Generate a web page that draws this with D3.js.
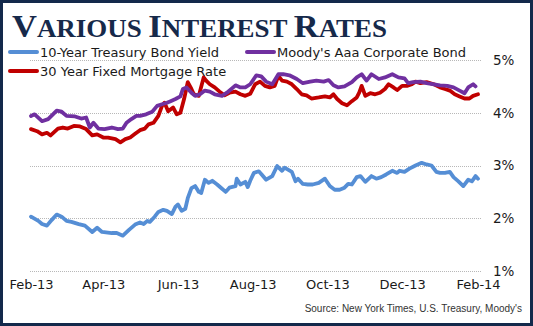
<!DOCTYPE html>
<html>
<head>
<meta charset="utf-8">
<script src="https://cdn.jsdelivr.net/npm/d3@7"></script>
<style>
  html, body { margin: 0; padding: 0; background: #fff; }
  svg { display: block; }
</style>
</head>
<body>
<svg id="chart" width="533" height="326"></svg>
<script>
// Weekly-ish readings of three rates, Feb 2013 – Feb 2014 (percent)
const treasury = [
  ["2013-02-01",2.03],["2013-02-07",1.95],["2013-02-10",1.89],["2013-02-14",1.86],["2013-02-18",1.97],
  ["2013-02-22",2.07],["2013-02-26",2.03],["2013-03-02",1.95],["2013-03-06",1.93],["2013-03-12",1.89],
  ["2013-03-17",1.86],["2013-03-23",1.74],["2013-03-27",1.82],["2013-03-31",1.74],["2013-04-08",1.72],
  ["2013-04-12",1.72],["2013-04-17",1.67],["2013-04-22",1.78],["2013-04-27",1.88],["2013-05-01",1.92],
  ["2013-05-04",1.89],["2013-05-07",1.95],["2013-05-09",1.93],["2013-05-13",2.03],["2013-05-16",2.12],
  ["2013-05-20",2.16],["2013-05-23",2.14],["2013-05-27",2.08],["2013-05-30",2.22],["2013-06-01",2.26],
  ["2013-06-04",2.14],["2013-06-07",2.18],["2013-06-09",2.38],["2013-06-12",2.57],["2013-06-15",2.61],
  ["2013-06-18",2.50],["2013-06-20",2.48],["2013-06-23",2.73],["2013-06-26",2.67],["2013-06-29",2.71],
  ["2013-07-03",2.64],["2013-07-07",2.56],["2013-07-10",2.50],["2013-07-13",2.58],["2013-07-18",2.61],
  ["2013-07-19",2.75],["2013-07-22",2.64],["2013-07-26",2.69],["2013-07-28",2.59],["2013-07-30",2.71],
  ["2013-08-02",2.86],["2013-08-06",2.89],["2013-08-08",2.84],["2013-08-12",2.73],["2013-08-17",2.80],
  ["2013-08-21",2.99],["2013-08-25",2.90],["2013-08-27",2.96],["2013-09-02",2.88],["2013-09-05",2.70],
  ["2013-09-07",2.75],["2013-09-11",2.65],["2013-09-15",2.64],["2013-09-19",2.64],["2013-09-24",2.67],
  ["2013-09-29",2.75],["2013-10-03",2.61],["2013-10-07",2.54],["2013-10-11",2.54],["2013-10-15",2.58],
  ["2013-10-18",2.65],["2013-10-21",2.64],["2013-10-25",2.78],["2013-10-28",2.80],["2013-11-01",2.69],
  ["2013-11-06",2.80],["2013-11-10",2.75],["2013-11-14",2.78],["2013-11-18",2.83],["2013-11-23",2.90],
  ["2013-11-27",2.86],["2013-11-29",2.90],["2013-12-03",2.88],["2013-12-07",2.94],["2013-12-12",3.00],
  ["2013-12-17",3.05],["2013-12-21",3.02],["2013-12-25",3.00],["2013-12-29",2.88],["2014-01-01",2.86],
  ["2014-01-05",2.86],["2014-01-09",2.88],["2014-01-12",2.78],["2014-01-16",2.70],["2014-01-20",2.61],
  ["2014-01-24",2.73],["2014-01-27",2.70],["2014-01-30",2.80],["2014-02-01",2.75]
];

const moodysAaa = [
  ["2013-02-01",3.94],["2013-02-04",3.97],["2013-02-10",3.84],["2013-02-15",3.88],["2013-02-22",4.04],
  ["2013-02-26",4.02],["2013-03-02",3.94],["2013-03-09",3.93],["2013-03-14",3.89],["2013-03-18",3.91],
  ["2013-03-21",3.72],["2013-03-24",3.81],["2013-03-28",3.70],["2013-04-02",3.69],["2013-04-08",3.72],
  ["2013-04-13",3.69],["2013-04-17",3.70],["2013-04-20",3.81],["2013-04-24",3.88],["2013-04-28",3.94],
  ["2013-05-01",3.94],["2013-05-06",3.97],["2013-05-11",4.02],["2013-05-15",4.13],["2013-05-19",4.16],
  ["2013-05-23",4.19],["2013-05-26",4.22],["2013-05-30",4.26],["2013-06-03",4.31],["2013-06-05",4.45],
  ["2013-06-08",4.48],["2013-06-12",4.38],["2013-06-15",4.32],["2013-06-19",4.35],["2013-06-23",4.42],
  ["2013-06-27",4.40],["2013-07-01",4.35],["2013-07-07",4.32],["2013-07-11",4.38],["2013-07-18",4.52],
  ["2013-07-22",4.48],["2013-07-26",4.48],["2013-07-30",4.54],["2013-08-04",4.71],["2013-08-08",4.69],
  ["2013-08-12",4.59],["2013-08-17",4.54],["2013-08-22",4.73],["2013-08-26",4.73],["2013-08-31",4.71],
  ["2013-09-06",4.64],["2013-09-11",4.56],["2013-09-17",4.59],["2013-09-22",4.61],["2013-09-28",4.59],
  ["2013-10-02",4.62],["2013-10-06",4.52],["2013-10-10",4.48],["2013-10-15",4.50],["2013-10-21",4.58],
  ["2013-10-25",4.67],["2013-10-29",4.73],["2013-11-02",4.61],["2013-11-06",4.73],["2013-11-12",4.64],
  ["2013-11-17",4.67],["2013-11-23",4.73],["2013-11-28",4.67],["2013-12-03",4.65],["2013-12-06",4.56],
  ["2013-12-10",4.58],["2013-12-16",4.59],["2013-12-21",4.56],["2013-12-27",4.54],["2014-01-01",4.52],
  ["2014-01-07",4.51],["2014-01-12",4.48],["2014-01-17",4.42],["2014-01-21",4.37],["2014-01-24",4.48],
  ["2014-01-28",4.54],["2014-01-30",4.50]
];

const mortgage30 = [
  ["2013-02-01",3.69],["2013-02-06",3.65],["2013-02-10",3.59],["2013-02-14",3.62],["2013-02-17",3.57],
  ["2013-02-23",3.70],["2013-02-27",3.72],["2013-03-03",3.70],["2013-03-08",3.75],["2013-03-13",3.74],
  ["2013-03-18",3.69],["2013-03-23",3.57],["2013-03-27",3.59],["2013-04-01",3.53],["2013-04-05",3.53],
  ["2013-04-11",3.50],["2013-04-15",3.44],["2013-04-19",3.50],["2013-04-23",3.53],["2013-04-27",3.60],
  ["2013-05-01",3.67],["2013-05-05",3.70],["2013-05-08",3.78],["2013-05-12",3.81],["2013-05-16",3.94],
  ["2013-05-19",4.13],["2013-05-21",4.19],["2013-05-24",4.03],["2013-05-28",4.10],["2013-05-31",3.97],
  ["2013-06-03",4.00],["2013-06-06",4.26],["2013-06-09",4.58],["2013-06-12",4.45],["2013-06-14",4.35],
  ["2013-06-18",4.32],["2013-06-22",4.67],["2013-06-24",4.61],["2013-06-27",4.54],["2013-07-01",4.48],
  ["2013-07-05",4.40],["2013-07-09",4.33],["2013-07-13",4.38],["2013-07-18",4.40],["2013-07-22",4.35],
  ["2013-07-26",4.32],["2013-07-30",4.36],["2013-08-03",4.54],["2013-08-07",4.59],["2013-08-11",4.51],
  ["2013-08-15",4.48],["2013-08-19",4.51],["2013-08-22",4.70],["2013-08-25",4.61],["2013-08-29",4.59],
  ["2013-09-02",4.54],["2013-09-06",4.45],["2013-09-10",4.35],["2013-09-14",4.33],["2013-09-18",4.27],
  ["2013-09-24",4.29],["2013-09-29",4.31],["2013-10-03",4.29],["2013-10-06",4.35],["2013-10-09",4.26],
  ["2013-10-13",4.18],["2013-10-17",4.14],["2013-10-21",4.22],["2013-10-25",4.29],["2013-10-27",4.38],
  ["2013-10-29",4.51],["2013-11-01",4.32],["2013-11-05",4.37],["2013-11-09",4.35],["2013-11-13",4.38],
  ["2013-11-17",4.45],["2013-11-20",4.54],["2013-11-24",4.48],["2013-11-27",4.43],["2013-12-01",4.51],
  ["2013-12-05",4.51],["2013-12-09",4.54],["2013-12-12",4.59],["2013-12-16",4.56],["2013-12-21",4.58],
  ["2013-12-27",4.54],["2014-01-01",4.48],["2014-01-05",4.45],["2014-01-09",4.42],["2014-01-13",4.35],
  ["2014-01-17",4.31],["2014-01-21",4.27],["2014-01-25",4.27],["2014-01-28",4.32],["2014-02-01",4.35]
];

const seriesNames = ["10-Year Treasury Bond Yield", "Moody's Aaa Corporate Bond", "30 Year Fixed Mortgage Rate"];
const seriesColors = ["#558ed5", "#7030a0", "#c00000"];
const xTickDates = ["2013-02-01","2013-04-01","2013-06-01","2013-08-01","2013-10-01","2013-12-01","2014-02-01"];
const yTickValues = [1, 2, 3, 4, 5];
const titleParts = [["V", true], ["ARIOUS ", false], ["I", true], ["NTEREST ", false], ["R", true], ["ATES", false]];
const sourceText = "Source:  New York Times, U.S. Treasury, Moody's";

const parse = d3.timeParse("%Y-%m-%d");
const svg = d3.select("#chart");
const W = 533, H = 326;

svg.append("rect").attr("x", 0).attr("y", 0).attr("width", W).attr("height", H).attr("fill", "#fff");

const x = d3.scaleTime()
  .domain([parse("2013-02-01"), parse("2014-02-01")])
  .range([31, 478]);
const y = d3.scaleLinear().domain([1, 5]).range([271, 60]);

// dotted horizontal gridlines
svg.append("g")
  .selectAll("line")
  .data(yTickValues)
  .join("line")
  .attr("x1", 30).attr("x2", 481)
  .attr("y1", d => Math.round(y(d)) + 0.5).attr("y2", d => Math.round(y(d)) + 0.5)
  .attr("stroke", "#b8b8b8").attr("stroke-width", 1).attr("stroke-dasharray", "1,1");

// y labels on the right
const yAxis = svg.append("g")
  .attr("transform", "translate(489,0)")
  .call(d3.axisRight(y).tickValues(yTickValues).tickSize(0).tickPadding(4).tickFormat(d => d + "%"));
yAxis.select(".domain").remove();
yAxis.selectAll("text").attr("font-family", "'DejaVu Sans', sans-serif").attr("font-size", 13.5).attr("fill", "#1a1a1a");

// x labels
const xAxis = svg.append("g")
  .attr("transform", "translate(0,276)")
  .call(d3.axisBottom(x).tickValues(xTickDates.map(parse)).tickSize(0).tickPadding(4).tickFormat(d3.timeFormat("%b-%y")));
xAxis.select(".domain").remove();
xAxis.selectAll("text").attr("font-family", "'DejaVu Sans', sans-serif").attr("font-size", 13).attr("fill", "#1a1a1a");

// series lines
const line = d3.line().x(d => x(parse(d[0]))).y(d => y(d[1]));
const allSeries = [treasury, moodysAaa, mortgage30];
const drawOrder = [0, 2, 1];
drawOrder.forEach(i => {
  svg.append("path")
    .datum(allSeries[i])
    .attr("d", line)
    .attr("fill", "none")
    .attr("stroke", seriesColors[i])
    .attr("stroke-width", 3.8)
    .attr("stroke-linejoin", "round")
    .attr("stroke-linecap", "round");
});

// title in small caps
const title = svg.append("text")
  .attr("x", 12).attr("y", 37)
  .attr("font-family", "'Liberation Serif', 'Times New Roman', serif")
  .attr("font-weight", "bold")
  .attr("fill", "#16294a")
  .attr("textLength", 375)
  .attr("lengthAdjust", "spacingAndGlyphs");
title.selectAll("tspan")
  .data(titleParts)
  .join("tspan")
  .attr("font-size", d => d[1] ? 32 : 25)
  .text(d => d[0]);

// legend
const legendItems = [
  { i: 0, x: 10, y: 52 },
  { i: 1, x: 247, y: 52 },
  { i: 2, x: 10, y: 71 }
];
const legend = svg.append("g");
legendItems.forEach(it => {
  legend.append("line")
    .attr("x1", it.x).attr("x2", it.x + 27)
    .attr("y1", it.y).attr("y2", it.y)
    .attr("stroke", seriesColors[it.i]).attr("stroke-width", 4).attr("stroke-linecap", "round");
  legend.append("text")
    .attr("x", it.x + 30).attr("y", it.y + 5)
    .attr("font-family", "'DejaVu Sans', sans-serif")
    .attr("font-size", 13)
    .attr("fill", "#1a1a1a")
    .text(seriesNames[it.i]);
});

// source note
svg.append("text")
  .attr("x", 522).attr("y", 312)
  .attr("text-anchor", "end")
  .attr("font-family", "'Liberation Sans', sans-serif")
  .attr("font-size", 10)
  .attr("fill", "#333")
  .text(sourceText);

// frame
svg.append("rect")
  .attr("x", 1.5).attr("y", 1.5).attr("width", W - 3).attr("height", H - 3)
  .attr("fill", "none").attr("stroke", "#13294b").attr("stroke-width", 3);
</script>
</body>
</html>
